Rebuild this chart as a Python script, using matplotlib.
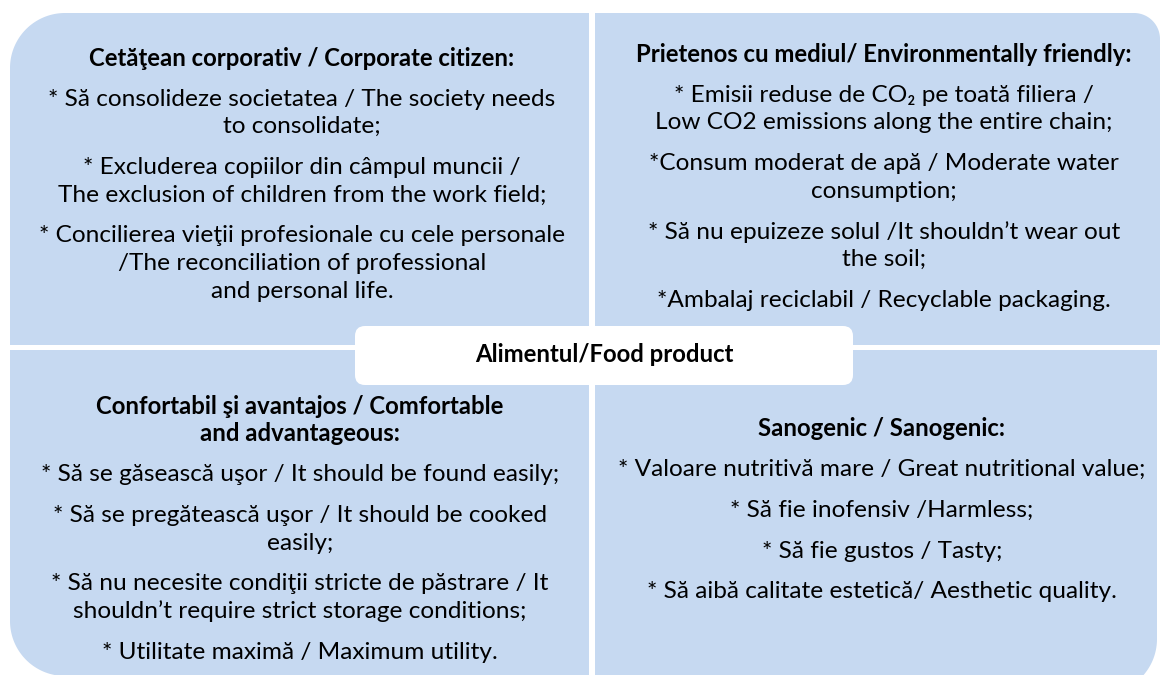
import numpy as np
import matplotlib.pyplot as plt
from matplotlib.patches import Polygon, FancyBboxPatch

plt.rcParams['font.family'] = ['Lato', 'DejaVu Sans']

# text of each quadrant: title, then paragraphs
tl_title = "Cetăţean corporativ / Corporate citizen:"
tl_items = ["* Să consolideze societatea / The society needs\nto consolidate;",
            "* Excluderea copiilor din câmpul muncii /\nThe exclusion of children from the work field;",
            "* Concilierea vieţii profesionale cu cele personale\n/The reconciliation of professional\nand personal life."]

tr_title = "Prietenos cu mediul/ Environmentally friendly:"
tr_items = ["* Emisii reduse de CO₂ pe toată filiera /\nLow CO2 emissions along the entire chain;",
            "*Consum moderat de apă / Moderate water\nconsumption;",
            "* Să nu epuizeze solul /It shouldn’t wear out\nthe soil;",
            "*Ambalaj reciclabil / Recyclable packaging."]

bl_title = "Confortabil şi avantajos / Comfortable\nand advantageous:"
bl_items = ["* Să se găsească uşor / It should be found easily;",
            "* Să se pregătească uşor / It should be cooked\neasily;",
            "* Să nu necesite condiţii stricte de păstrare / It\nshouldn’t require strict storage conditions;",
            "* Utilitate maximă / Maximum utility."]

br_title = "Sanogenic / Sanogenic:"
br_items = ["* Valoare nutritivă mare / Great nutritional value;",
            "* Să fie inofensiv /Harmless;",
            "* Să fie gustos / Tasty;",
            "* Să aibă calitate estetică/ Aesthetic quality."]

center_label = "Alimentul/Food product"

BLUE = '#c6d9f1'
LH = 27.5      # line height px
GAP = 41       # from last line of a block to first line of next
FS = 17.6
FS_B = 17.2


def one_corner(x0, y0, x1, y1, r, corner):
    pts = []
    start = {'tl': 180, 'tr': 270, 'br': 0, 'bl': 90}
    centers = {'tl': (x0 + r, y0 + r), 'tr': (x1 - r, y0 + r),
               'br': (x1 - r, y1 - r), 'bl': (x0 + r, y1 - r)}
    plain = {'tl': (x0, y0), 'tr': (x1, y0), 'br': (x1, y1), 'bl': (x0, y1)}
    for c in ['tl', 'tr', 'br', 'bl']:
        if c == corner:
            a = np.radians(np.linspace(start[c], start[c] + 90, 40))
            cx, cy = centers[c]
            pts += list(zip(cx + r * np.cos(a), cy + r * np.sin(a)))
        else:
            pts.append(plain[c])
    return Polygon(pts, closed=True, facecolor=BLUE, edgecolor='none')


fig = plt.figure(figsize=(11.6, 6.75), dpi=100)
ax = fig.add_axes([0, 0, 1, 1])
ax.set_xlim(0, 1160)
ax.set_ylim(675, 0)
ax.axis('off')

ax.add_patch(one_corner(10, 13, 589, 345, 55, 'tl'))
ax.add_patch(one_corner(595, 13, 1160, 345, 26, 'tr'))
ax.add_patch(one_corner(10, 350, 589, 676, 55, 'bl'))
ax.add_patch(one_corner(595, 350, 1157, 694, 55, 'br'))

ax.add_patch(FancyBboxPatch((355, 326), 498, 59,
                            boxstyle="round,pad=0,rounding_size=10",
                            facecolor='white', edgecolor='none'))
ax.text(604, 355, center_label, ha='center', va='center',
        fontsize=FS_B, fontweight='bold')


def lines(cx, y, txt, bold=False):
    for i, s in enumerate(txt.split('\n')):
        ax.text(cx, y + i * LH, s, ha='center', va='center',
                fontsize=FS_B if bold else FS,
                fontweight='bold' if bold else 'normal')
    return y + txt.count('\n') * LH + GAP


def block(cx, y, title, items):
    y = lines(cx, y, title, bold=True)
    for it in items:
        y = lines(cx, y, it)


block(302, 58, tl_title, tl_items)
block(884, 54, tr_title, tr_items)
block(300, 406, bl_title, bl_items)
block(882, 428, br_title, br_items)

fig.savefig('out.png', dpi=100)
